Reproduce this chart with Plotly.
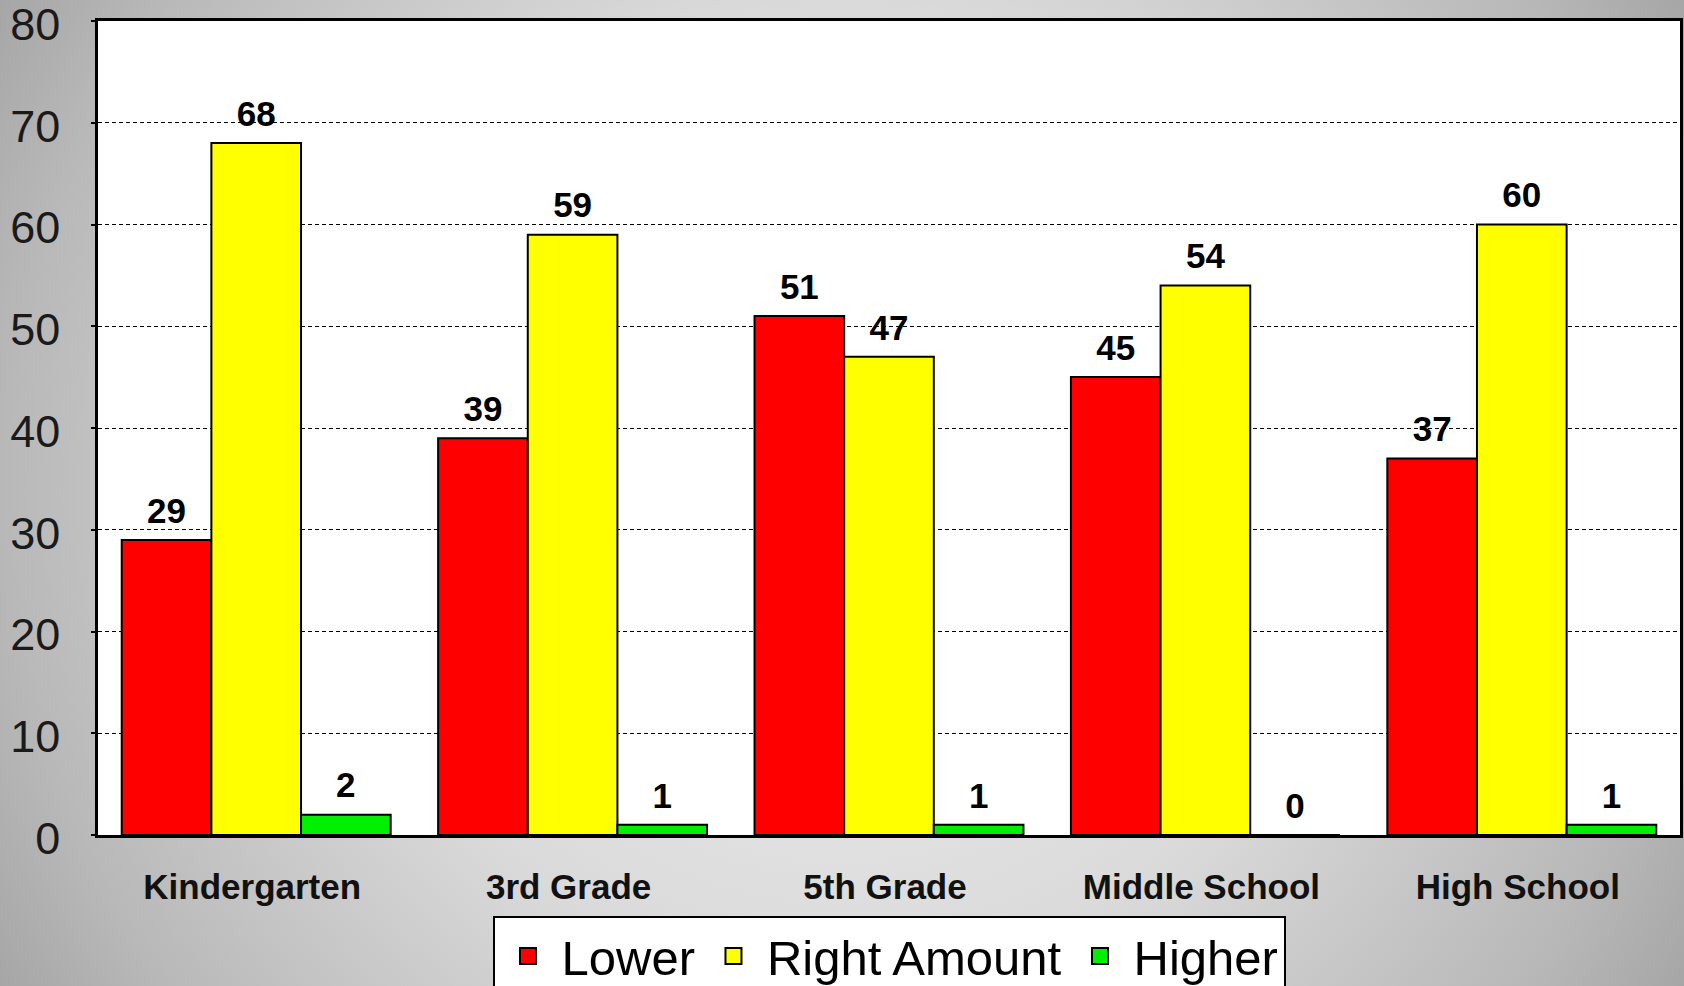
import base64
import plotly.graph_objects as go

categories = ["Kindergarten", "3rd Grade", "5th Grade", "Middle School", "High School"]
lower = [29, 39, 51, 45, 37]
right_amount = [68, 59, 47, 54, 60]
higher = [2, 1, 1, 0, 1]
y_ticks = [0, 10, 20, 30, 40, 50, 60, 70, 80]
series_names = ["Lower", "Right Amount", "Higher"]
series_colors = ["#ff0000", "#ffff00", "#00f000"]

W, H = 1684, 986
ML, MR, MT, MB = 98, 4, 21, 151
PW, PH = W - ML - MR, H - MT - MB

svg = f"""<svg xmlns='http://www.w3.org/2000/svg' width='{W}' height='{H}' viewBox='0 0 {W} {H}' preserveAspectRatio='none'>
<defs><radialGradient id='g' gradientUnits='userSpaceOnUse' cx='{W/2}' cy='{H/2}' r='976'>
<stop offset='0' stop-color='#f0f0f0'/><stop offset='0.5' stop-color='#dadada'/>
<stop offset='0.86' stop-color='#b8b8b8'/><stop offset='1' stop-color='#a6a6a6'/>
</radialGradient></defs><rect width='{W}' height='{H}' fill='url(#g)'/></svg>"""
bg_uri = "data:image/svg+xml;base64," + base64.b64encode(svg.encode()).decode()

label_font = dict(family="Liberation Sans, Arial, sans-serif", size=35, color="black", weight="bold")

fig = go.Figure()
series_values = [lower, right_amount, higher]
for i, (name, vals, col) in enumerate(zip(series_names, series_values, series_colors)):
    fig.add_trace(go.Bar(
        x=categories, y=vals, name=name, showlegend=False, offsetgroup=str(i),
        marker=dict(color=col, line=dict(color="black", width=2)),
    ))
# value labels, grouped to sit over their bars
for i, (name, vals) in enumerate(zip(series_names, series_values)):
    fig.add_trace(go.Scatter(
        x=categories, y=vals, mode="markers+text", showlegend=False, offsetgroup=str(i),
        marker=dict(size=12, opacity=0), text=vals, textposition="top center",
        textfont=label_font, cliponaxis=False, hoverinfo="skip",
    ))
# legend entries with larger square swatches
for i, (name, col) in enumerate(zip(series_names, series_colors)):
    fig.add_trace(go.Scatter(
        x=[None], y=[None], mode="markers", name=name, showlegend=True, offsetgroup=str(i),
        marker=dict(symbol="square", size=30, color=col, line=dict(color="black", width=2)),
    ))

fig.update_layout(
    width=W, height=H,
    margin=dict(l=ML, r=MR, t=MT, b=MB, autoexpand=False),
    paper_bgcolor="#c4c4c4",
    plot_bgcolor="white",
    barmode="group", bargap=0.15, bargroupgap=0,
    scattermode="group", scattergap=0.15,
    font=dict(family="Liberation Sans, Arial, sans-serif", color="black"),
    showlegend=True,
    legend=dict(
        orientation="h", x=0.5, xanchor="center", y=-0.099, yanchor="top",
        bgcolor="white", bordercolor="black", borderwidth=2,
        font=dict(size=49, color="black"), itemwidth=57, traceorder="normal",
    ),
    images=[dict(
        source=bg_uri, xref="paper", yref="paper",
        x=-ML / PW, y=1 + MT / PH, sizex=W / PW, sizey=H / PH,
        xanchor="left", yanchor="top", sizing="stretch", layer="below",
    )],
    shapes=[dict(
        type="rect", xref="paper", yref="paper", x0=0, x1=1, y0=0, y1=1,
        fillcolor="white", line=dict(width=0), layer="below",
    )],
)

fig.update_xaxes(
    showline=True, linecolor="black", linewidth=2.5, mirror=True,
    ticks="", ticklabelstandoff=19, ticklabelshift=-4,
    tickfont=dict(size=35, color="#111111", weight="bold"),
)
fig.update_yaxes(
    range=[0, 80], tickvals=y_ticks,
    showline=True, linecolor="black", linewidth=2.5, mirror=True,
    showgrid=True, gridcolor="black", gridwidth=1, griddash="4px,3px",
    zeroline=False, ticks="outside", ticklen=4, tickwidth=2, tickcolor="black",
    ticklabelstandoff=22, ticklabeloverflow="allow", ticklabelshift=3,
    tickfont=dict(size=45, color="#1a1a1a"),
)

fig.write_html(
    "out.html",
    config={"displayModeBar": False},
    post_script="document.body.style.margin='0';document.body.style.overflow='hidden';",
)
